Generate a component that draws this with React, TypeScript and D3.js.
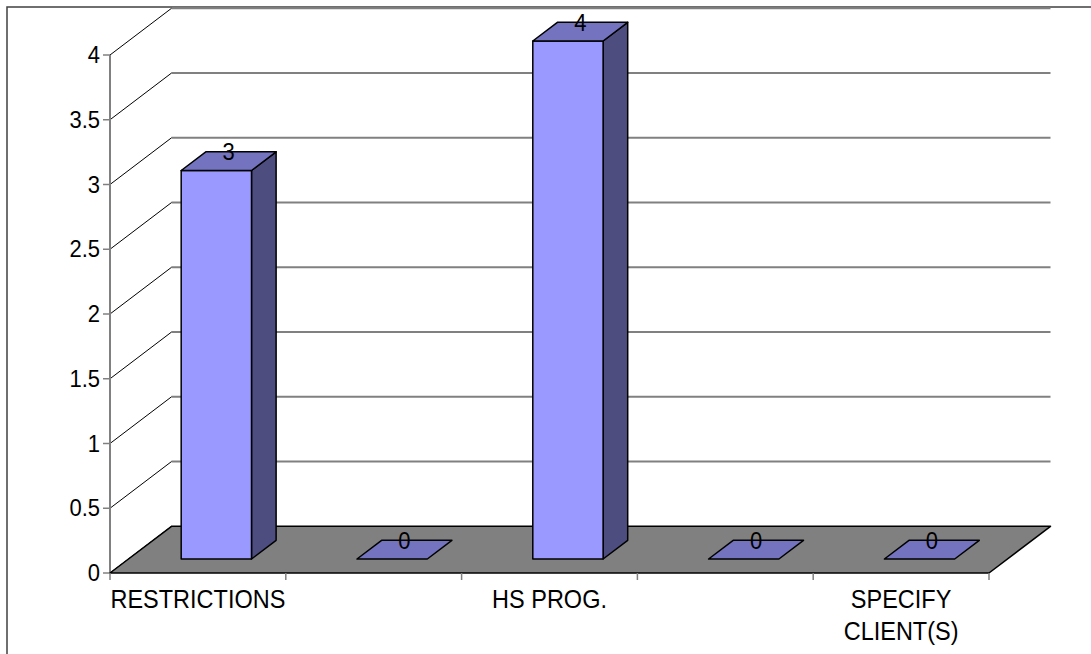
import React from "react";
import * as d3 from "d3";

// Category names (two unlabeled slots sit between the labeled ones)
const categories: string[] = ["RESTRICTIONS", "", "HS PROG.", "", "SPECIFY\nCLIENT(S)"];
const values: number[] = [3, 0, 4, 0, 0];
const yTicks: number[] = [0, 0.5, 1, 1.5, 2, 2.5, 3, 3.5, 4];

const W = 1091;
const H = 654;

// Front plane of the plot and the 3D depth vector
const plotLeft = 110;
const plotRight = 989;
const plotBottom = 573;
const plotTop = 55;
const depth = { dx: 61.5, dy: -46.7 };
const barFrontFrac = 0.3;
const barDepthFrac = 0.4;

const FONT = "'Liberation Sans', Arial, sans-serif";
const STRETCH = 1.12;

const colors = {
  front: "#9999ff",
  top: "#7373bf",
  side: "#4d4d80",
  floor: "#808080",
  grid: "#808080",
};

function pts(p: [number, number][]) {
  return p.map((d) => d.join(",")).join(" ");
}

export default function App() {
  const y = d3.scaleLinear().domain([0, 4]).range([plotBottom, plotTop]);
  const catScale = d3.scaleBand<number>().domain(d3.range(categories.length)).range([plotLeft, plotRight]);
  const barScale = d3
    .scaleBand<number>()
    .domain(d3.range(categories.length))
    .range([plotLeft, plotRight])
    .paddingInner(0.6)
    .paddingOuter(0.3);

  const fx = depth.dx * barFrontFrac;
  const fy = depth.dy * barFrontFrac;
  const bdx = depth.dx * barDepthFrac;
  const bdy = depth.dy * barDepthFrac;

  const catEdges = d3.range(categories.length + 1).map((i) => plotLeft + i * catScale.step());

  const stretched = (x: number, yy: number) => `translate(${x},${yy}) scale(1,${STRETCH})`;

  return (
    <svg width={W} height={H} style={{ position: "absolute", left: 0, top: 0, background: "#fff" }}>
      {/* outer chart border */}
      <rect x={7} y={7} width={W + 20} height={H + 20} fill="none" stroke="#404040" strokeWidth={1.5} />

      {/* back wall gridlines */}
      {yTicks
        .filter((t) => t > 0)
        .map((t) => (
          <line
            key={`g${t}`}
            x1={plotLeft + depth.dx}
            x2={plotRight + depth.dx}
            y1={y(t) + depth.dy}
            y2={y(t) + depth.dy}
            stroke={colors.grid}
            strokeWidth={2}
          />
        ))}

      {/* side wall gridlines */}
      {yTicks.map((t) => (
        <line
          key={`s${t}`}
          x1={plotLeft}
          y1={y(t)}
          x2={plotLeft + depth.dx}
          y2={y(t) + depth.dy}
          stroke="#000"
          strokeWidth={1}
        />
      ))}

      {/* value axis */}
      <line x1={plotLeft} x2={plotLeft} y1={y(4)} y2={plotBottom} stroke={colors.grid} strokeWidth={2} />
      {yTicks.map((t) => (
        <g key={`t${t}`}>
          <line x1={plotLeft - 7} x2={plotLeft} y1={y(t)} y2={y(t)} stroke={colors.grid} strokeWidth={1.5} />
          <text
            transform={stretched(plotLeft - 10, y(t) + 8)}
            textAnchor="end"
            fontFamily={FONT}
            fontSize={22}
            fill="#000"
          >
            {d3.format("~g")(t)}
          </text>
        </g>
      ))}

      {/* floor */}
      <polygon
        points={pts([
          [plotLeft, plotBottom],
          [plotRight, plotBottom],
          [plotRight + depth.dx, plotBottom + depth.dy],
          [plotLeft + depth.dx, plotBottom + depth.dy],
        ])}
        fill={colors.floor}
        stroke="#000"
        strokeWidth={1.5}
        strokeLinejoin="round"
      />

      {/* category axis ticks */}
      {catEdges.map((x, i) => (
        <line key={`c${i}`} x1={x} x2={x} y1={plotBottom} y2={plotBottom + 7} stroke={colors.grid} strokeWidth={1.5} />
      ))}

      {/* bars */}
      {values.map((v, i) => {
        const x0 = (barScale(i) as number) + fx;
        const x1 = x0 + barScale.bandwidth();
        const yb = y(0) + fy;
        const yt = y(v) + fy;
        const cx = (x0 + x1) / 2 + bdx / 2;
        const cy = yt + bdy / 2;
        return (
          <g key={`b${i}`} stroke="#000" strokeWidth={1.5} strokeLinejoin="round">
            {v > 0 && (
              <>
                <polygon
                  points={pts([
                    [x1, yb],
                    [x1 + bdx, yb + bdy],
                    [x1 + bdx, yt + bdy],
                    [x1, yt],
                  ])}
                  fill={colors.side}
                />
                <rect x={x0} y={yt} width={x1 - x0} height={yb - yt} fill={colors.front} />
              </>
            )}
            <polygon
              points={pts([
                [x0, yt],
                [x1, yt],
                [x1 + bdx, yt + bdy],
                [x0 + bdx, yt + bdy],
              ])}
              fill={colors.top}
            />
            <text
              transform={stretched(cx, cy - 1)}
              textAnchor="middle"
              fontFamily={FONT}
              fontSize={22}
              fill="#000"
              stroke="none"
            >
              {v}
            </text>
          </g>
        );
      })}

      {/* category labels */}
      {categories.map((c, i) => {
        const cx = (catScale(i) as number) + catScale.bandwidth() / 2;
        return c
          .split("\n")
          .map((line, j) => (
            <text
              key={`l${i}-${j}`}
              transform={stretched(cx, 608 + j * 32)}
              textAnchor="middle"
              fontFamily={FONT}
              fontSize={23.5}
              fill="#000"
            >
              {line}
            </text>
          ));
      })}
    </svg>
  );
}
